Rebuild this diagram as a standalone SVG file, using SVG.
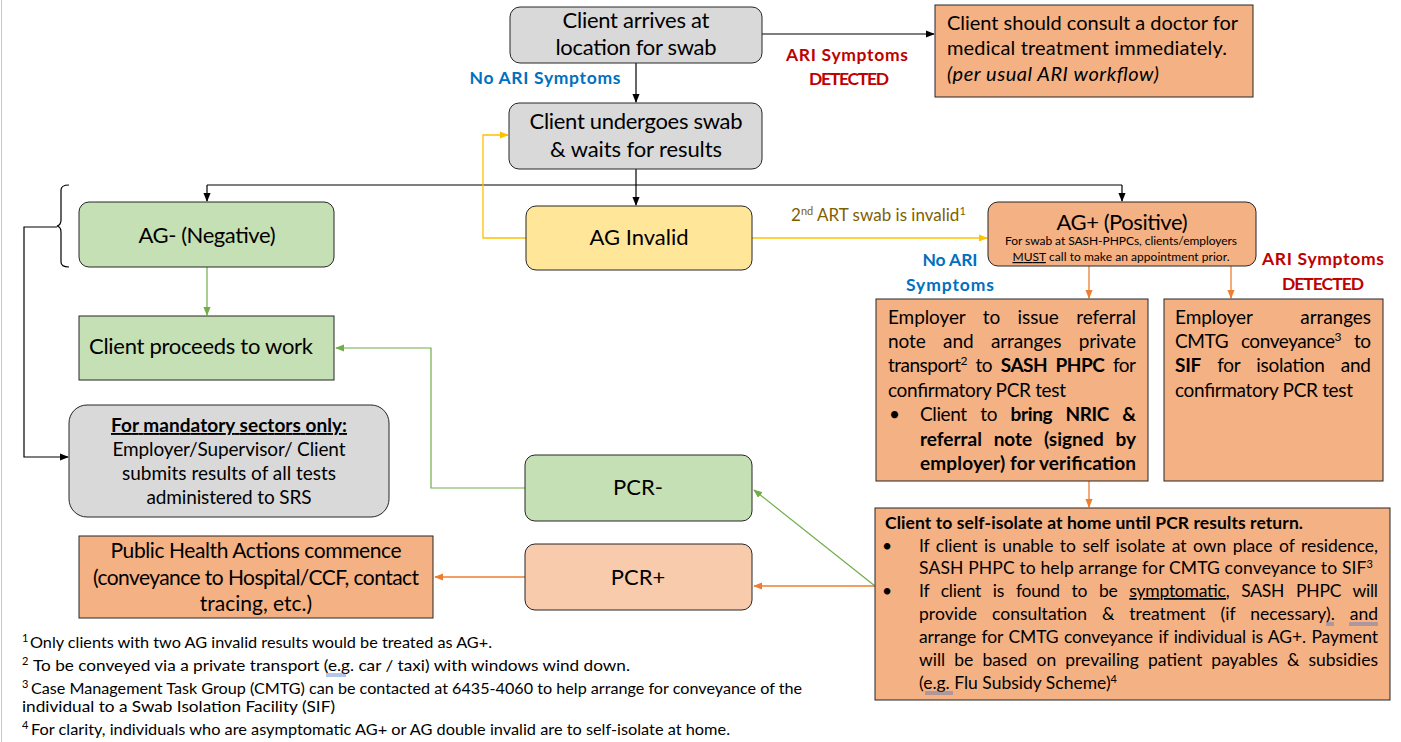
<svg xmlns="http://www.w3.org/2000/svg" width="1401" height="742" viewBox="0 0 1401 742">
<defs>
<style>
text{font-family:Lato,"Liberation Sans",sans-serif;fill:#000}
.box{stroke:#262626;stroke-width:1}
.gray{fill:#d9d9d9}.green{fill:#c5e0b4}.yellow{fill:#ffe699}.orange{fill:#f4b183}.peach{fill:#f8cbad}
.c{text-anchor:middle}
.e{text-anchor:end}
.big{font-size:22px}
.emp{font-size:19px}
.bot{font-size:17.5px}
.lbl{font-size:17.5px;font-weight:bold}
.blue{fill:#0070c0}.red{fill:#c00000}
.b{font-weight:bold}
.u{text-decoration:underline}
.fn{font-size:16px}
.k{fill:none;stroke:#000;stroke-width:1.2}
.g{fill:none;stroke:#70ad47;stroke-width:1.2}
.o{fill:none;stroke:#ed7d31;stroke-width:1.3}
.y{fill:none;stroke:#ffc000;stroke-width:1.3}
.sq{fill:none;stroke:#4472c4;stroke-width:0.8}
</style>
<marker id="ak" viewBox="0 0 10 10" refX="9" refY="5" markerWidth="9" markerHeight="9" markerUnits="userSpaceOnUse" orient="auto"><path d="M0,1 L10,5 L0,9z" fill="#000"/></marker>
<marker id="ag" viewBox="0 0 10 10" refX="9" refY="5" markerWidth="9" markerHeight="9" markerUnits="userSpaceOnUse" orient="auto"><path d="M0,1 L10,5 L0,9z" fill="#70ad47"/></marker>
<marker id="ao" viewBox="0 0 10 10" refX="9" refY="5" markerWidth="9" markerHeight="9" markerUnits="userSpaceOnUse" orient="auto"><path d="M0,1 L10,5 L0,9z" fill="#ed7d31"/></marker>
<marker id="ay" viewBox="0 0 10 10" refX="9" refY="5" markerWidth="9" markerHeight="9" markerUnits="userSpaceOnUse" orient="auto"><path d="M0,1 L10,5 L0,9z" fill="#ffc000"/></marker>
</defs>
<rect width="1401" height="742" fill="#fff"/>
<line x1="1.5" y1="0" x2="1.5" y2="742" stroke="#c8c8c8" stroke-width="1"/>

<g id="connectors">
<path class="k" d="M636,63 V102" marker-end="url(#ak)"/>
<path class="k" d="M762,34 H934" marker-end="url(#ak)"/>
<path class="k" d="M636,169 V205" marker-end="url(#ak)"/>
<path class="k" d="M207,185 H1122"/>
<path class="k" d="M207,185 V201" marker-end="url(#ak)"/>
<path class="k" d="M1122,185 V201" marker-end="url(#ak)"/>
<path class="y" d="M526,238 H483 V135 H508" marker-end="url(#ay)"/>
<path class="y" d="M752,238 H987" marker-end="url(#ay)"/>
<path class="g" d="M207,267 V315" marker-end="url(#ag)"/>
<path class="g" d="M525,488 H431 V348 H336" marker-end="url(#ag)"/>
<path class="g" d="M875,586 L754,490" marker-end="url(#ag)"/>
<path class="o" d="M875,586 H754" marker-end="url(#ao)"/>
<path class="o" d="M525,577 H435" marker-end="url(#ao)"/>
<path class="o" d="M1089,266 V298" marker-end="url(#ao)"/>
<path class="o" d="M1231,266 V298" marker-end="url(#ao)"/>
<path class="o" d="M1089,481 V507" marker-end="url(#ao)"/>
<path class="k" d="M69,185 Q61,185 61,190 V220 Q61,225 57,226 Q61,227 61,232 V262 Q61,267 69,267"/>
<path class="k" d="M57,227 H24 V457 H68" marker-end="url(#ak)"/>
</g>

<g id="labels">
<text x="545" y="84" class="lbl blue c" textLength="151">No ARI Symptoms</text>
<text x="847" y="61" class="lbl red c" textLength="122">ARI Symptoms</text>
<text x="849" y="85" class="lbl red c" textLength="80">DETECTED</text>
<text x="791" y="221" style="font-size:17px;fill:#7f6000">2<tspan dy="-6" font-size="11" style="fill:#7f6000">nd</tspan><tspan dy="6" style="fill:#7f6000"> ART swab is invalid</tspan><tspan dy="-6" font-size="11" style="fill:#7f6000">1</tspan></text>
<text x="950" y="266" class="lbl blue c" textLength="55">No ARI</text>
<text x="950" y="291" class="lbl blue c" textLength="88">Symptoms</text>
<text x="1323" y="265" class="lbl red c" textLength="122">ARI Symptoms</text>
<text x="1323" y="290" class="lbl red c" textLength="82">DETECTED</text>
</g>

<g id="n-arrive">
<rect x="510" y="7" width="252" height="56" rx="10" class="box gray"/>
<text x="636" y="28" class="big c" textLength="147">Client arrives at</text>
<text x="636" y="55" class="big c" textLength="161">location for swab</text>
</g>

<g id="n-doctor">
<rect x="935" y="5" width="318" height="92" class="box orange"/>
<text x="947" y="30" style="font-size:20px" textLength="291">Client should consult a doctor for</text>
<text x="947" y="55" style="font-size:20px" textLength="280">medical treatment immediately.</text>
<text x="947" y="81" style="font-size:20px;font-style:italic" textLength="212">(per usual ARI workflow)</text>
</g>

<g id="n-swab">
<rect x="509" y="103" width="253" height="66" rx="10" class="box gray"/>
<text x="636" y="129" class="big c" textLength="213">Client undergoes swab</text>
<text x="636" y="157" class="big c" textLength="172">&amp; waits for results</text>
</g>

<g id="n-agneg">
<rect x="79" y="202" width="255" height="65" rx="10" class="box green"/>
<text x="207" y="243" class="big c" textLength="137">AG- (Negative)</text>
</g>

<g id="n-aginv">
<rect x="526" y="206" width="226" height="64" rx="10" class="box yellow"/>
<text x="639" y="245" class="big c">AG Invalid</text>
</g>

<g id="n-agpos">
<rect x="988" y="202" width="268" height="64" rx="10" class="box orange"/>
<text x="1122" y="230" class="big c" textLength="131">AG+ (Positive)</text>
<text x="1121" y="245" class="c" style="font-size:12px" textLength="232">For swab at SASH-PHPCs, clients/employers</text>
<text x="1121" y="261" class="c" style="font-size:12px" textLength="217"><tspan class="u">MUST</tspan> call to make an appointment prior.</text>
</g>

<g id="n-work">
<rect x="79" y="316" width="255" height="64" class="box green"/>
<text x="89" y="354" class="big" textLength="224">Client proceeds to work</text>
</g>

<g id="n-mandatory">
<rect x="69" y="405" width="320" height="112" rx="18" class="box gray"/>
<text x="229" y="432" class="c b u" style="font-size:19px" textLength="236">For mandatory sectors only:</text>
<text x="229" y="456" class="c" style="font-size:19px" textLength="233">Employer/Supervisor/ Client</text>
<text x="229" y="480" class="c" style="font-size:19px" textLength="214">submits results of all tests</text>
<text x="229" y="504" class="c" style="font-size:19px" textLength="165">administered to SRS</text>
</g>

<g id="n-private">
<rect x="876" y="299" width="272" height="182" class="box orange"/>
<text x="888" y="324" class="emp" style="word-spacing:12.7px" textLength="248">Employer to issue referral</text>
<text x="888" y="348" class="emp" style="word-spacing:12.7px" textLength="248">note and arranges private</text>
<text x="888" y="372" class="emp" style="word-spacing:4.3px" textLength="248">transport<tspan dy="-7" font-size="12">2</tspan><tspan dy="7"> to </tspan><tspan class="b">SASH PHPC</tspan> for</text>
<text x="888" y="397" class="emp" textLength="178">confirmatory PCR test</text>
<text x="889" y="421" class="emp">•</text>
<text x="920" y="421" class="emp" style="word-spacing:9.1px" textLength="216">Client to <tspan class="b">bring NRIC &amp;</tspan></text>
<text x="920" y="446" class="emp b" style="word-spacing:7.2px" textLength="216">referral note (signed by</text>
<text x="920" y="470" class="emp b" textLength="216">employer) for verification</text>
</g>

<g id="n-sif">
<rect x="1164" y="299" width="219" height="182" class="box orange"/>
<text x="1175" y="324" class="emp" style="word-spacing:43px" textLength="196">Employer arranges</text>
<text x="1175" y="348" class="emp" style="word-spacing:8.3px" textLength="196">CMTG conveyance<tspan dy="-7" font-size="12">3</tspan><tspan dy="7"> to</tspan></text>
<text x="1175" y="372" class="emp" style="word-spacing:11.6px" textLength="196"><tspan class="b">SIF</tspan> for isolation and</text>
<text x="1175" y="397" class="emp" textLength="178">confirmatory PCR test</text>
</g>

<g id="n-isolate">
<rect x="875" y="508" width="515" height="192" class="box orange"/>
<text x="885" y="529" class="bot b" textLength="418">Client to self-isolate at home until PCR results return.</text>
<text x="882" y="552" class="bot">•</text>
<text x="919" y="552" class="bot" style="word-spacing:2px" textLength="459">If client is unable to self isolate at own place of residence,</text>
<text x="919" y="574" class="bot" textLength="454">SASH PHPC to help arrange for CMTG conveyance to SIF<tspan dy="-6" font-size="11">3</tspan></text>
<text x="882" y="597" class="bot">•</text>
<text x="919" y="597" class="bot" style="word-spacing:7.5px" textLength="459">If client is found to be <tspan class="u">symptomatic</tspan>, SASH PHPC will</text>
<text x="919" y="620" class="bot" style="word-spacing:10.3px" textLength="459">provide consultation &amp; treatment (if necessary). and</text>
<text x="919" y="643" class="bot" style="word-spacing:1.1px" textLength="459">arrange for CMTG conveyance if individual is AG+. Payment</text>
<text x="919" y="666" class="bot" style="word-spacing:4.7px" textLength="459">will be based on prevailing patient payables &amp; subsidies</text>
<text x="919" y="689" class="bot">(e.g. Flu Subsidy Scheme)<tspan dy="-6" font-size="11">4</tspan></text>
<path class="sq" d="M1326,623 H1334 M1326,625 H1334 M1349,623 H1378 M1349,625 H1378 M925,692 H953 M925,694 H953"/>
</g>

<g id="n-pcrneg">
<rect x="525" y="455" width="227" height="66" rx="10" class="box green"/>
<text x="638" y="495" class="big c">PCR-</text>
</g>

<g id="n-pcrpos">
<rect x="525" y="544" width="227" height="66" rx="10" class="box peach"/>
<text x="638" y="585" class="big c">PCR+</text>
</g>

<g id="n-public">
<rect x="79" y="536" width="354" height="82" class="box orange"/>
<text x="256" y="558" class="c" style="font-size:21px" textLength="291">Public Health Actions commence</text>
<text x="256" y="585" class="c" style="font-size:21px" textLength="326">(conveyance to Hospital/CCF, contact</text>
<text x="256" y="611" class="c" style="font-size:21px">tracing, etc.)</text>
</g>

<g id="footnotes">
<text x="22" y="642" style="font-size:11px">1</text>
<text x="30" y="648" class="fn" textLength="462" lengthAdjust="spacingAndGlyphs">Only clients with two AG invalid results would be treated as AG+.</text>
<text x="22" y="665" style="font-size:11px">2</text>
<text x="33" y="671" class="fn" textLength="597" lengthAdjust="spacingAndGlyphs">To be conveyed via a private transport (e.g. car / taxi) with windows wind down.</text>
<path class="sq" d="M326,674 H346 M326,676 H346"/>
<text x="22" y="688" style="font-size:11px">3</text>
<text x="31" y="694" class="fn" textLength="771" lengthAdjust="spacingAndGlyphs">Case Management Task Group (CMTG) can be contacted at 6435-4060 to help arrange for conveyance of the</text>
<text x="22" y="712" class="fn" textLength="313" lengthAdjust="spacingAndGlyphs">individual to a Swab Isolation Facility (SIF)</text>
<text x="22" y="729" style="font-size:11px">4</text>
<text x="31" y="735" class="fn" textLength="699" lengthAdjust="spacingAndGlyphs">For clarity, individuals who are asymptomatic AG+ or AG double invalid are to self-isolate at home.</text>
</g>
</svg>
